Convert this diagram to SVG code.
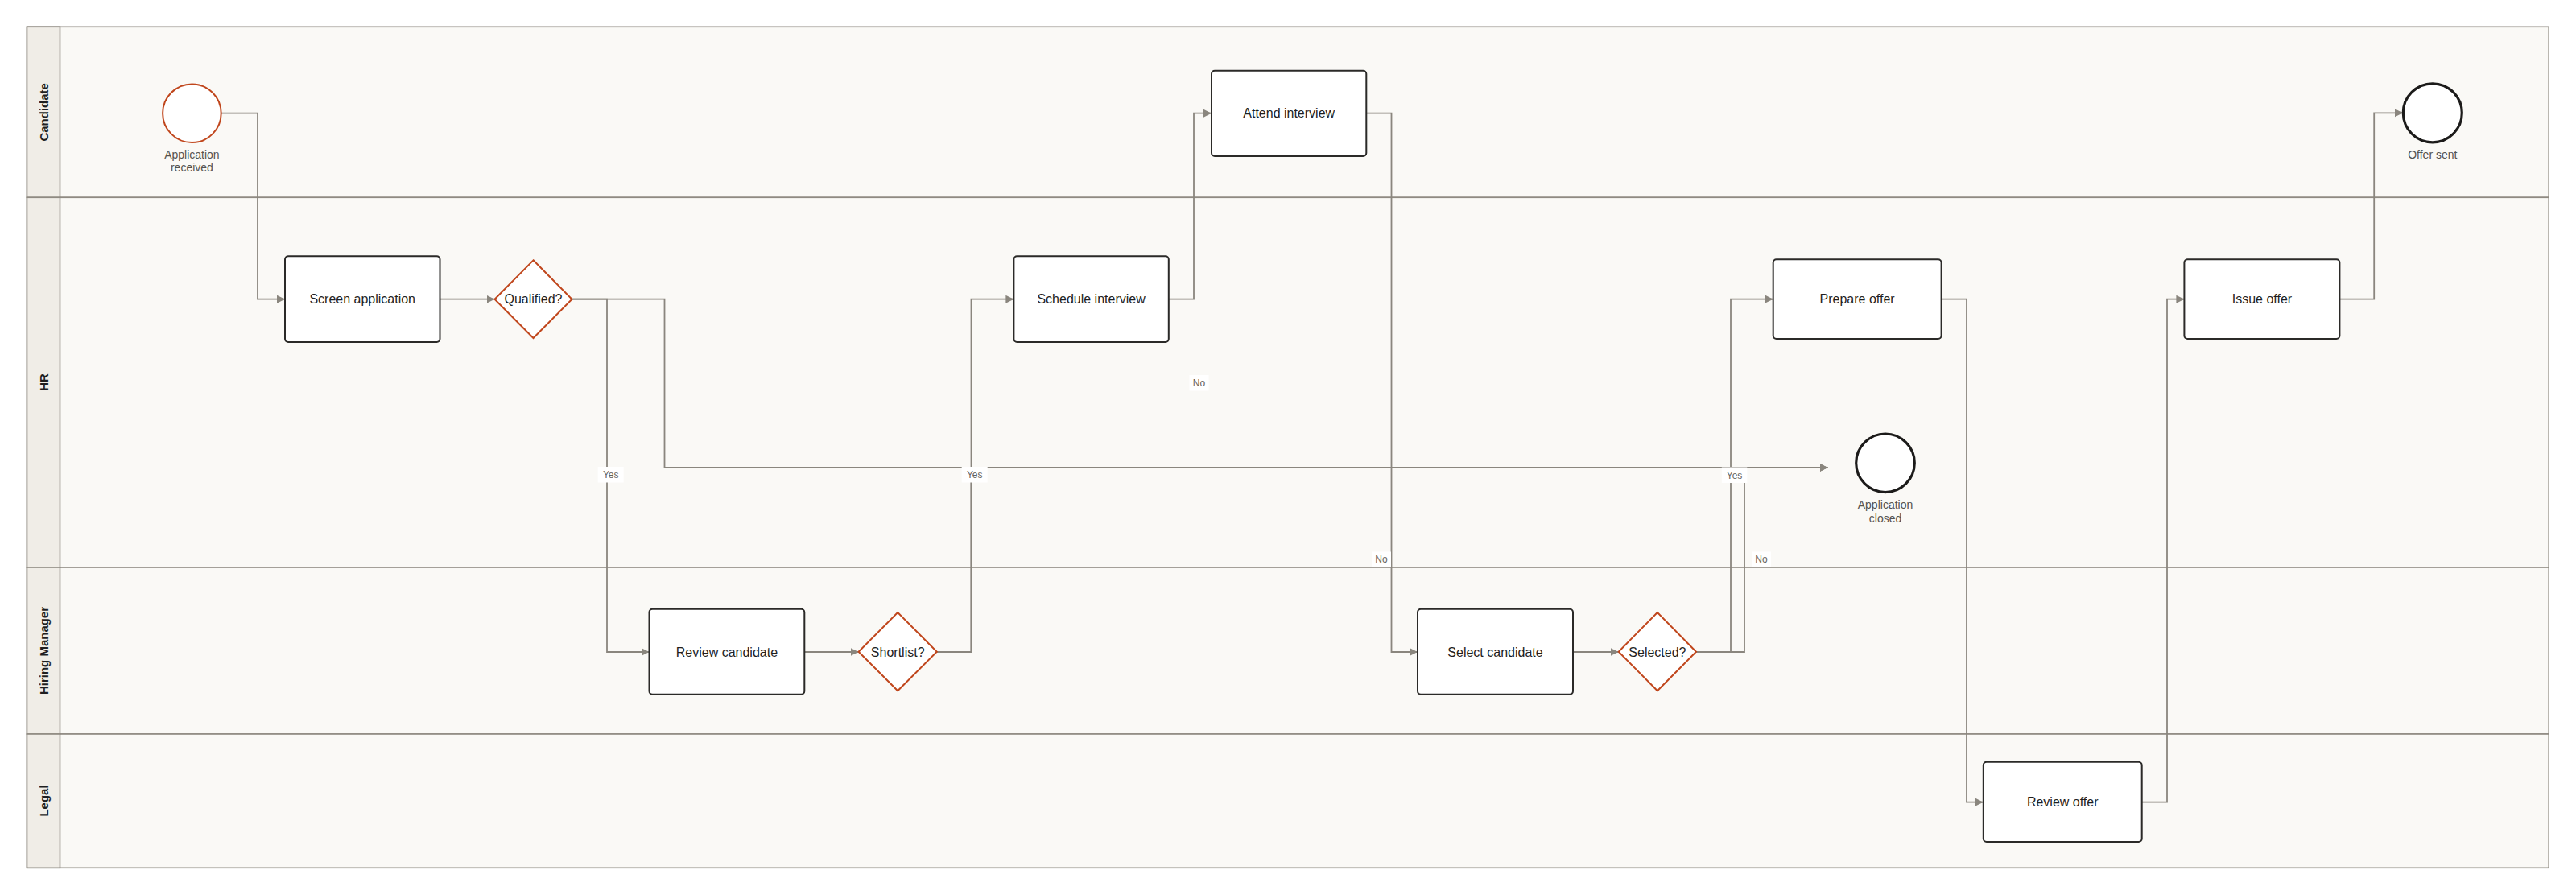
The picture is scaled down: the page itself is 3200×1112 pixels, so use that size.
<svg xmlns="http://www.w3.org/2000/svg" width="3200" height="1112" viewBox="0 0 3200 1112">
<defs>
<style>
.lane{fill:#faf9f6;stroke:#8f8a82;stroke-width:1.6}
.hdr{fill:#f0ede7;stroke:#8f8a82;stroke-width:1.6}
.lanelbl{font-family:"Liberation Sans",Arial,sans-serif;font-size:15px;font-weight:bold;fill:#1f1f1f;text-anchor:middle}
.task rect{fill:#ffffff;stroke:#2b2a28;stroke-width:2}
.gw polygon{fill:#ffffff;stroke:#c0461c;stroke-width:2}
.start circle{fill:#ffffff;stroke:#c0461c;stroke-width:2}
.end circle{fill:#ffffff;stroke:#1c1b1a;stroke-width:3.2}
.t{font-family:"Liberation Sans",Arial,sans-serif;font-size:16px;fill:#1f1f1f;text-anchor:middle}
.ev{font-family:"Liberation Sans",Arial,sans-serif;font-size:14px;fill:#555350;text-anchor:middle}
.edge{fill:none;stroke:#8a867e;stroke-width:1.8}
.lblbg{fill:#ffffff}
.lbl{font-family:"Liberation Sans",Arial,sans-serif;font-size:12px;fill:#66635e;text-anchor:middle}
</style>
<marker id="arr" viewBox="0 0 10 10" refX="10" refY="5" markerWidth="10" markerHeight="11" markerUnits="userSpaceOnUse" orient="auto">
<path d="M0,0 L10,5 L0,10 Z" fill="#8a867e"/>
</marker>
</defs>
<rect x="0" y="0" width="3200" height="1112" fill="#ffffff"/>
<g id="pool">
<rect class="lane" x="33.5" y="33.3" width="3132.7" height="212"/>
<rect class="lane" x="33.5" y="245.3" width="3132.7" height="459.7"/>
<rect class="lane" x="33.5" y="705" width="3132.7" height="207"/>
<rect class="lane" x="33.5" y="912" width="3132.7" height="166.3"/>
<rect class="hdr" x="33.5" y="33.3" width="41" height="212"/>
<rect class="hdr" x="33.5" y="245.3" width="41" height="459.7"/>
<rect class="hdr" x="33.5" y="705" width="41" height="207"/>
<rect class="hdr" x="33.5" y="912" width="41" height="166.3"/>
<text class="lanelbl" transform="translate(59.5,139.3) rotate(-90)">Candidate</text>
<text class="lanelbl" transform="translate(59.5,475) rotate(-90)">HR</text>
<text class="lanelbl" transform="translate(59.5,808.5) rotate(-90)">Hiring Manager</text>
<text class="lanelbl" transform="translate(59.5,995) rotate(-90)">Legal</text>
</g>
<g id="connectors">
<path class="edge" d="M275,140.7 H320 V371.7 H354" marker-end="url(#arr)"/>
<path class="edge" d="M546.5,371.7 H614.5" marker-end="url(#arr)"/>
<path class="edge" d="M710.5,371.7 H754 V810 H806.5" marker-end="url(#arr)"/>
<path class="edge" d="M710.5,371.7 H825.5 V581 H2270.5" marker-end="url(#arr)"/>
<path class="edge" d="M999.3,810 H1066.6" marker-end="url(#arr)"/>
<path class="edge" d="M1163.8,810 H1206.5 V371.7 H1259.4" marker-end="url(#arr)"/>
<path class="edge" d="M1163.8,810 H1206.5 V581 H2270.5" marker-end="url(#arr)"/>
<path class="edge" d="M1451.8,371.7 H1483 V140.7 H1505" marker-end="url(#arr)"/>
<path class="edge" d="M1697.3,140.7 H1728.5 V810 H1761" marker-end="url(#arr)"/>
<path class="edge" d="M1954,810 H2010.7" marker-end="url(#arr)"/>
<path class="edge" d="M2107,810 H2150 V371.7 H2202.7" marker-end="url(#arr)"/>
<path class="edge" d="M2107,810 H2167 V581 H2270.5" marker-end="url(#arr)"/>
<path class="edge" d="M2411.6,371.7 H2443 V996.7 H2463.8" marker-end="url(#arr)"/>
<path class="edge" d="M2660.7,996.7 H2692 V371.7 H2713.4" marker-end="url(#arr)"/>
<path class="edge" d="M2906.4,371.7 H2949.2 V140.3 H2985" marker-end="url(#arr)"/>
<g id="edge-labels">
<rect class="lblbg" x="742.7" y="580" width="32" height="19.5"/>
<text class="lbl" x="758.7" y="594.2">Yes</text>
<rect class="lblbg" x="1477.5" y="466" width="24" height="19.5"/>
<text class="lbl" x="1489.5" y="480">No</text>
<rect class="lblbg" x="1194.7" y="580" width="32" height="19.5"/>
<text class="lbl" x="1210.7" y="594.2">Yes</text>
<rect class="lblbg" x="1704" y="685.5" width="24" height="19"/>
<text class="lbl" x="1716" y="699.3">No</text>
<rect class="lblbg" x="2138.8" y="580.5" width="31.5" height="19.5"/>
<text class="lbl" x="2154.6" y="594.7">Yes</text>
<rect class="lblbg" x="2176" y="685.5" width="24" height="19"/>
<text class="lbl" x="2188" y="699.3">No</text>
</g>
</g>
<g id="start" class="start">
<circle cx="238.4" cy="140.7" r="36.3"/>
<text class="ev" x="238.4" y="197">Application</text>
<text class="ev" x="238.4" y="213.2">received</text>
</g>
<g id="screen" class="task">
<rect x="354" y="318.3" width="192.5" height="106.7" rx="4"/>
<text class="t" x="450.2" y="377.3">Screen application</text>
</g>
<g id="qualified" class="gw">
<polygon points="662.5,323.3 710.5,371.7 662.5,420 614.5,371.7"/>
<text class="t" x="662.5" y="377.3">Qualified?</text>
</g>
<g id="review-candidate" class="task">
<rect x="806.5" y="756.7" width="192.8" height="106" rx="4"/>
<text class="t" x="902.9" y="815.6">Review candidate</text>
</g>
<g id="shortlist" class="gw">
<polygon points="1115.2,761 1163.8,809.7 1115.2,858.3 1066.6,809.7"/>
<text class="t" x="1115.2" y="815.6">Shortlist?</text>
</g>
<g id="schedule" class="task">
<rect x="1259.4" y="318.3" width="192.4" height="106.7" rx="4"/>
<text class="t" x="1355.6" y="377.3">Schedule interview</text>
</g>
<g id="attend" class="task">
<rect x="1505" y="87.7" width="192.3" height="106.3" rx="4"/>
<text class="t" x="1601.2" y="146.3">Attend interview</text>
</g>
<g id="select" class="task">
<rect x="1761" y="756.7" width="193" height="106" rx="4"/>
<text class="t" x="1857.5" y="815.6">Select candidate</text>
</g>
<g id="selected" class="gw">
<polygon points="2058.9,761 2107,809.7 2058.9,858.3 2010.7,809.7"/>
<text class="t" x="2058.9" y="815.6">Selected?</text>
</g>
<g id="closed" class="end">
<circle cx="2342" cy="575.3" r="36.3"/>
<text class="ev" x="2342" y="632.3">Application</text>
<text class="ev" x="2342" y="648.5">closed</text>
</g>
<g id="prepare" class="task">
<rect x="2202.7" y="322.3" width="208.9" height="98.7" rx="4"/>
<text class="t" x="2307.1" y="377.3">Prepare offer</text>
</g>
<g id="review-offer" class="task">
<rect x="2463.8" y="946.7" width="196.9" height="99.3" rx="4"/>
<text class="t" x="2562.2" y="1002.3">Review offer</text>
</g>
<g id="issue" class="task">
<rect x="2713.4" y="322.3" width="193" height="98.7" rx="4"/>
<text class="t" x="2809.9" y="377.3">Issue offer</text>
</g>
<g id="offer-sent" class="end">
<circle cx="3021.8" cy="140.3" r="36.5"/>
<text class="ev" x="3021.8" y="196.7">Offer sent</text>
</g>
</svg>
